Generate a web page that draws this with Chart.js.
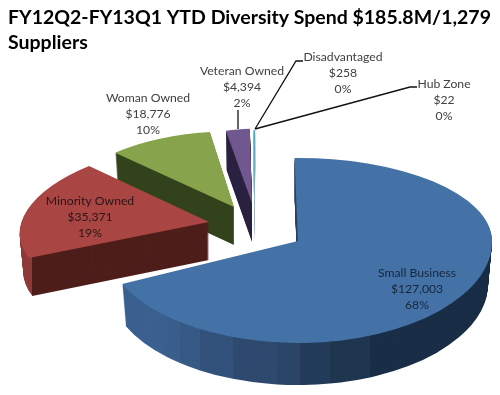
<!DOCTYPE html>
<html><head><meta charset="utf-8">
<style>html,body{margin:0;padding:0;background:#fff}canvas{display:block}</style>
<script src="https://cdn.jsdelivr.net/npm/chart.js@4"></script>
</head><body>
<canvas id="c" width="500" height="395"></canvas>
<script>
// ---- data ----
const titleLines = ['FY12Q2-FY13Q1 YTD Diversity Spend $185.8M/1,279', 'Suppliers'];
const categories = ['Small Business', 'Minority Owned', 'Woman Owned', 'Veteran Owned', 'Disadvantaged', 'Hub Zone'];
const spend = [127003, 35371, 18776, 4394, 258, 22];
const topColors = ['#4472a6', '#a94543', '#87a34b', '#70578f', '#4bacc6', '#f79646'];

// ---- styling: a per-slice view projection (apex, x axis, up axis, lower-half up axis), and layout ----
const projection = [
  {a:[298,241], u:[194,0],      v:[0,-83],       vd:[0,-102], depth:42},
  {a:[209,222], u:[187.8,-1.2], v:[23.4,-82.6],  depth:38},
  {a:[234,207], u:[169.5,2.7],  v:[5.6,-75.8],   depth:38},
  {a:[252,203], u:[162,-6],     v:[2.2,-74.5],   depth:39},
  {a:[254.5,205], u:[165,0],    v:[3.5,-75],     depth:37},
  {a:[254.5,205], u:[165,0],    v:[3.5,-75],     depth:37}
];
const taper = 0.02;
const wallBands = [
  [[167,'#3b6190'],[180,'#3a5f8d'],[200,'#375a85'],[233,'#33527b'],[277,'#2e4a6f'],[300,'#2a4566'],[330,'#243c5a'],[370,'#1f3650'],[501,'#1a2e47']],
  [[32,'#8e3b39'],[501,'#4e1e1b']],
  [[501,'#33431c']],
  [[501,'#2b2240']],
  [[501,'#9fb9c4']],
  [[501,'#9fb9c4']]
];
const drawOrder = [5,4,3,2,1,0];
const labelCenters = [[417,273],[90,201],[148,98],[242,71],[343,57],[444,84]];
const labelColors = ['#17263c','#2a1616','#404040','#404040','#404040','#404040'];
const leaders = [null,null,null,
  [[238,110],[238,129]],
  [[303,61],[296,61],[255,129]],
  [[417,87],[410,87],[255,129]]];

const TOTAL = spend.reduce((s,v)=>s+v,0);
function labelLines(i){
  return [categories[i], '$'+spend[i].toLocaleString('en-US'), Math.round(spend[i]/TOTAL*100)+'%'];
}

function paintArc(ctx, arc, p, color, d){
  const k = 1 - taper*d/p.depth;
  const ux=p.u[0]*k, uy=p.u[1]*k;
  const R = arc.outerRadius;
  const opts = arc.options;
  arc.options = {borderWidth:0,offset:0,spacing:0,borderRadius:0,circular:true,borderAlign:'center',backgroundColor:color,borderColor:color};
  const split = Math.round(p.a[1]+d);
  const pieces = p.vd ? [[p.v,-10,split+10],[p.vd,split,1000]] : [[p.v,-10,1010]];
  pieces.forEach(([v,y0,y1],n)=>{
    ctx.save();
    if(p.vd){ ctx.beginPath(); ctx.rect(-10,y0,520,(n===0?split:y1)-y0); ctx.clip(); }
    ctx.transform(ux/R,uy/R,-v[0]/R,-v[1]/R,p.a[0],p.a[1]+d);
    ctx.translate(-arc.x,-arc.y);
    arc.draw(ctx);
    ctx.restore();
  });
  arc.options = opts;
}

const pie3d = {
  id:'pie3d',
  beforeDatasetsDraw(chart){
    const ctx = chart.ctx, arcs = chart.getDatasetMeta(0).data;
    drawOrder.forEach(i=>{
      const p = projection[i], arc = arcs[i];
      let x0 = -10;
      wallBands[i].forEach(([x1,col])=>{
        ctx.save();
        ctx.beginPath(); ctx.rect(x0,0,x1-x0,395); ctx.clip();
        for(let d=p.depth;d>=1;d--) paintArc(ctx,arc,p,col,d);
        ctx.restore();
        x0 = x1;
      });
      paintArc(ctx,arc,p,topColors[i],0);
    });
    return false;
  },
  afterDraw(chart){
    const ctx = chart.ctx;
    ctx.save();
    ctx.strokeStyle='#111'; ctx.lineWidth=1.3;
    leaders.forEach(l=>{
      if(!l) return;
      ctx.beginPath();
      l.forEach(([x,y],n)=> n?ctx.lineTo(x,y):ctx.moveTo(x,y));
      ctx.stroke();
    });
    ctx.font='12.2px Lato'; ctx.textAlign='center'; ctx.textBaseline='middle';
    categories.forEach((c,i)=>{
      ctx.fillStyle=labelColors[i];
      labelLines(i).forEach((t,n)=>ctx.fillText(t,labelCenters[i][0],labelCenters[i][1]+n*16));
    });
    ctx.restore();
  }
};

new Chart(document.getElementById('c'),{
  type:'pie',
  data:{labels:categories,datasets:[{data:spend,backgroundColor:topColors,borderWidth:0}]},
  options:{
    responsive:false,animation:false,rotation:-1,
    layout:{padding:{left:8,top:5}},
    plugins:{
      legend:{display:false},tooltip:{enabled:false},
      title:{display:true,text:titleLines,align:'start',color:'#000',
        font:{family:'Lato',weight:'bold',size:19.5,lineHeight:1.28},padding:0}
    }
  },
  plugins:[pie3d]
});
</script>
</body></html>
